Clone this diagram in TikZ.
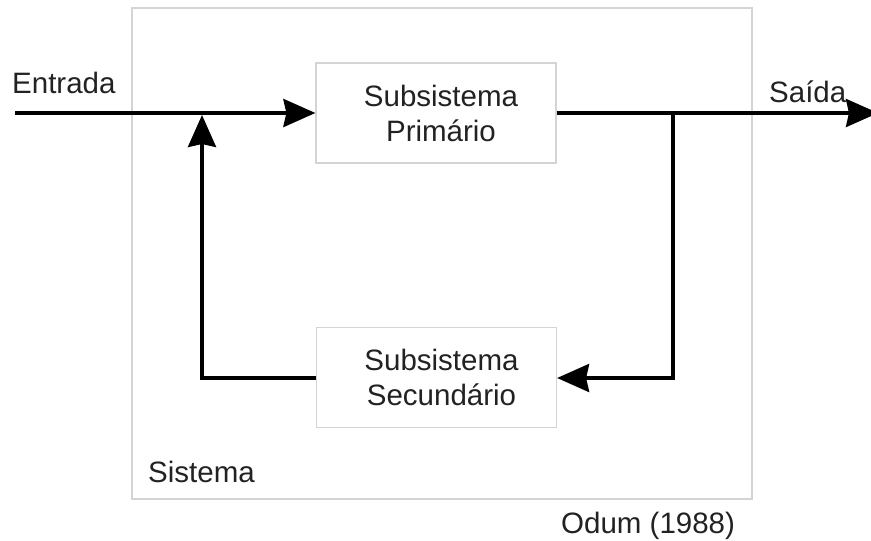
\documentclass[tikz,border=0pt]{standalone}
\usepackage{fontspec}
\setmainfont{Liberation Sans}
\usetikzlibrary{arrows.meta}
\definecolor{boxgray}{HTML}{D4D4D4}
\definecolor{txt}{HTML}{222222}
\begin{document}
\begin{tikzpicture}[x=1pt,y=-1pt,
  every node/.style={text=txt,font=\fontsize{29.5}{35}\selectfont},
  sub/.style={draw=boxgray,line width=1.2pt,minimum width=240pt,minimum height=100pt,align=center,inner sep=0pt},
  flow/.style={line width=3.6pt,draw=black,line join=miter,-{Stealth[length=32pt,width=28pt,inset=3pt]}},
  lbl/.style={anchor=base west,inner sep=0pt}]
\useasboundingbox (0,0) rectangle (871,541);
\node[draw=boxgray,line width=1.2pt,minimum width=620pt,minimum height=491pt,inner sep=0pt] (sys) at (442,253.5) {};
\node[sub] (prim) at (436,113) {\hspace*{10pt}Subsistema\\\hspace*{10pt}Primário};
\node[sub] (sec) at (436.5,377.5) {\hspace*{10pt}Subsistema\\\hspace*{10pt}Secundário};
\coordinate (in) at (15,113);
\coordinate (out) at (878,113);
\coordinate (j) at (202,115);
\coordinate (b) at (673,113);
\coordinate (bl) at (202,378);
\coordinate (br) at (673,378);
\draw[flow] (in) -- (prim.west);
\draw[flow] (prim.east) -- (out);
\draw[flow] (b) -- (br) -- (br -| sec.east);
\draw[flow] (sec.west |- bl) -- (bl) -- (j);
\node[lbl] (entrada) at (12,93) {Entrada};
\node[lbl] (saida) at (769,102) {Saída};
\node[lbl] (sistema) at (148,482) {Sistema};
\node[lbl] (odum) at (561,533) {Odum (1988)};
\end{tikzpicture}
\end{document}
